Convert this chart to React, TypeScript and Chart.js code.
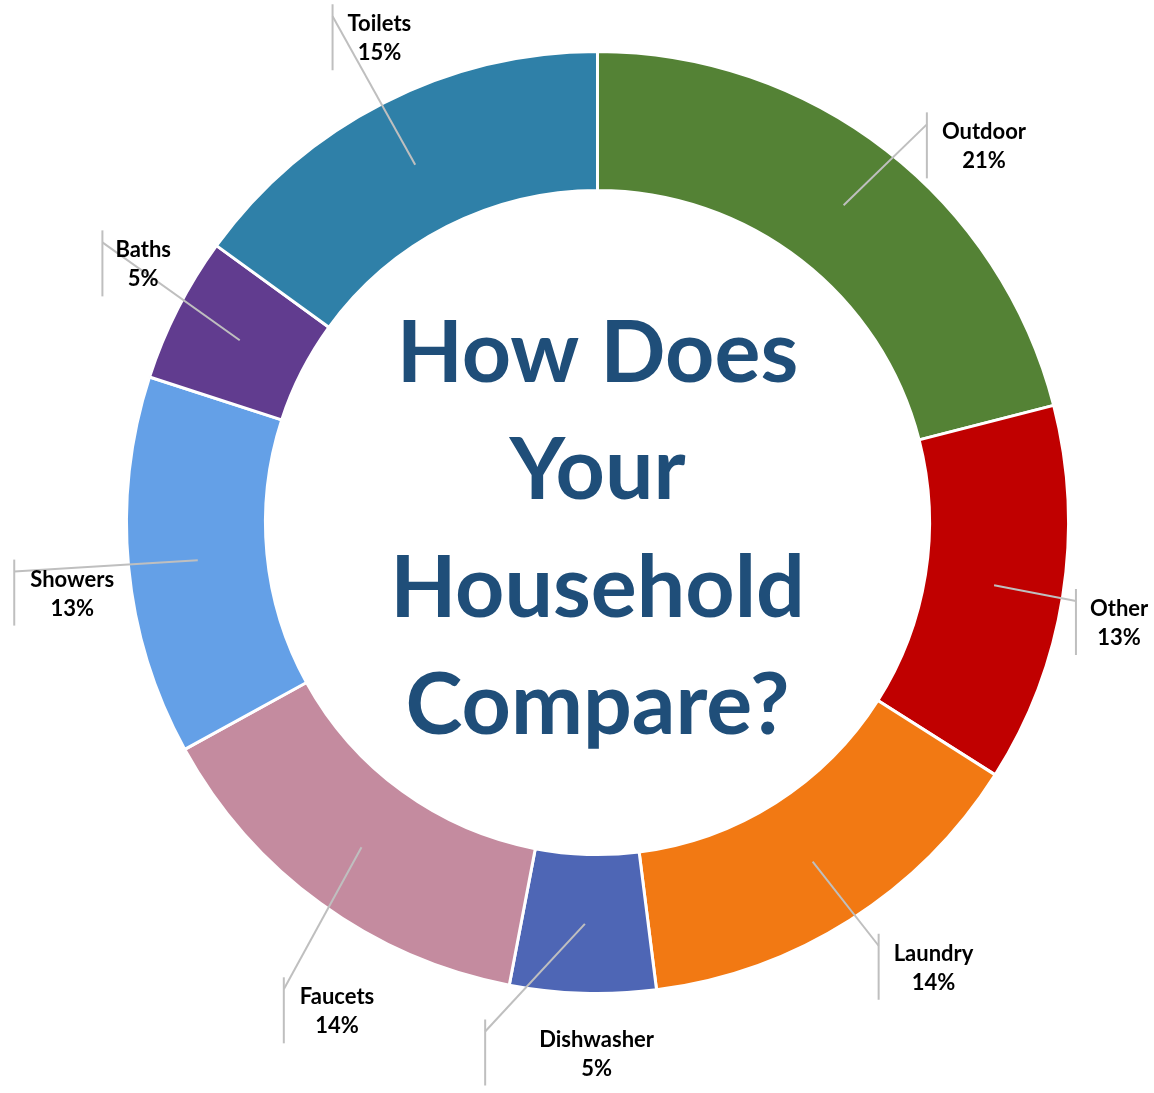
import React, { useEffect, useRef } from "react";
import { Chart, registerables } from "chart.js";

Chart.register(...registerables);

const categories = ["Outdoor", "Other", "Laundry", "Dishwasher", "Faucets", "Showers", "Baths", "Toilets"];
const shares = [21, 13, 14, 5, 14, 13, 5, 15];
const sliceColors = ["#548235", "#C00000", "#F27913", "#4E66B5", "#C48B9F", "#64A0E7", "#613C8F", "#2F80A8"];
const centerTitleLines = ["How Does", "Your", "Household", "Compare?"];

// label layout: angular shift (deg, clockwise) from slice middle, radius from centre, gap between bar and text
const labelLayout = [
  { shift: 7.9, r: 540, gap: 15 },
  { shift: 1.8, r: 531, gap: 14 },
  { shift: -4.7, r: 557, gap: 15 },
  { shift: -1.7, r: 530, gap: 54 },
  { shift: -7.9, r: 553, gap: 16 },
  { shift: -2.2, r: 530, gap: 16 },
  { shift: 2.7, r: 523, gap: 13 },
  { shift: 2.8, r: 532, gap: 15 },
];

const leaderPlugin = {
  id: "leaderLabels",
  afterDatasetsDraw(chart: any) {
    const ctx = chart.ctx as CanvasRenderingContext2D;
    const meta = chart.getDatasetMeta(0);
    const total = shares.reduce((a, b) => a + b, 0);
    ctx.save();
    meta.data.forEach((arc: any, i: number) => {
      const p = arc.getProps(["x", "y", "startAngle", "endAngle", "innerRadius", "outerRadius"], true);
      const mid = (p.startAngle + p.endAngle) / 2;
      const ar = (p.innerRadius + p.outerRadius) / 2;
      const ax = p.x + Math.cos(mid) * ar;
      const ay = p.y + Math.sin(mid) * ar;
      const lay = labelLayout[i];
      const la = mid + (lay.shift * Math.PI) / 180;
      const lx = p.x + Math.cos(la) * lay.r;
      const ly = p.y + Math.sin(la) * lay.r;
      const name = categories[i];
      const pct = Math.round((shares[i] / total) * 100) + "%";
      ctx.font = "bold 22px Lato";
      const w = Math.max(ctx.measureText(name).width, ctx.measureText(pct).width);
      const barX = lx - w / 2 - lay.gap;
      const top = ly - 33;
      const bottom = ly + 33;
      ctx.strokeStyle = "#BFBFBF";
      ctx.lineWidth = 2;
      ctx.beginPath();
      ctx.moveTo(barX, top);
      ctx.lineTo(barX, bottom);
      ctx.stroke();
      ctx.beginPath();
      ctx.moveTo(ax, ay);
      ctx.lineTo(barX, top + 12);
      ctx.stroke();
      ctx.fillStyle = "#000000";
      ctx.textAlign = "center";
      ctx.textBaseline = "middle";
      ctx.fillText(name, lx, ly - 13);
      ctx.fillText(pct, lx, ly + 16);
    });
    // centre title
    const a0 = meta.data[0];
    const cx = a0.x;
    const cy = a0.y;
    ctx.fillStyle = "#1F4E79";
    ctx.font = "bold 86px Lato";
    ctx.textAlign = "center";
    ctx.textBaseline = "alphabetic";
    centerTitleLines.forEach((line, k) => {
      ctx.fillText(line, cx, cy - 141 + k * 117.5);
    });
    ctx.restore();
  },
};

export default function App() {
  const ref = useRef<HTMLCanvasElement | null>(null);
  useEffect(() => {
    if (!ref.current) return;
    const chart = new Chart(ref.current, {
      type: "doughnut",
      data: {
        labels: categories,
        datasets: [
          {
            data: shares,
            backgroundColor: sliceColors,
            borderColor: "#FFFFFF",
            borderWidth: 3,
          },
        ],
      },
      options: {
        animation: false,
        responsive: true,
        maintainAspectRatio: false,
        cutout: "70.5%",
        layout: { padding: { left: 125, right: 84, top: 50, bottom: 98 } },
        plugins: {
          legend: { display: false },
          tooltip: { enabled: false },
        },
      },
      plugins: [leaderPlugin],
    });
    return () => chart.destroy();
  }, []);
  return (
    <div style={{ position: "absolute", left: 0, top: 0, width: 1154, height: 1093, background: "#FFFFFF" }}>
      <canvas ref={ref} />
    </div>
  );
}
